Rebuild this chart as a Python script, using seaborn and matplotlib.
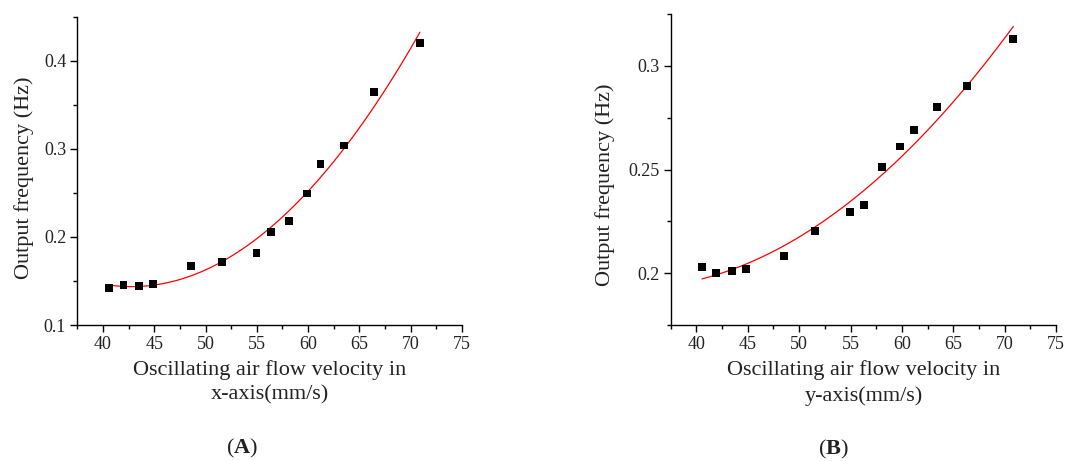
import numpy as np
import pandas as pd
import matplotlib
matplotlib.use("Agg")
import matplotlib.pyplot as plt
from matplotlib.ticker import MultipleLocator
import seaborn as sns

# Panel A: x-axis velocity vs output frequency
vel_x = [40.55, 42.0, 43.5, 44.87, 48.58, 51.6, 54.97, 56.37, 58.12, 59.9, 61.2, 63.48, 66.4, 70.9]
freq_x = [0.1424, 0.1455, 0.1443, 0.1462, 0.167, 0.172, 0.1818, 0.2053, 0.2178, 0.2493, 0.2826, 0.3038, 0.3644, 0.4197]

# Panel B: y-axis velocity vs output frequency
vel_y = [40.55, 41.95, 43.47, 44.84, 48.54, 51.56, 54.94, 56.3, 58.05, 59.84, 61.17, 63.44, 66.36, 70.84]
freq_y = [0.2029, 0.2, 0.2011, 0.2021, 0.2082, 0.2202, 0.2295, 0.2329, 0.251, 0.2611, 0.2691, 0.2801, 0.2901, 0.3128]

xlabels = ["Oscillating air flow velocity in\nx-axis(mm/s)",
           "Oscillating air flow velocity in\ny-axis(mm/s)"]
ylabel = "Output frequency (Hz)"
panel_labels = ["A", "B"]

sns.set_style("ticks")
plt.rcParams['font.family'] = ['Liberation Serif', 'DejaVu Serif']
plt.rcParams['mathtext.fontset'] = 'custom'
plt.rcParams['mathtext.rm'] = 'Liberation Serif'
plt.rcParams['mathtext.bf'] = 'Liberation Serif:bold'

fig = plt.figure(figsize=(10.67, 4.61), dpi=100)
axA = fig.add_axes([77.3/1067, 136/461, (462-77.3)/1067, (325-16.7)/461])
axB = fig.add_axes([670.7/1067, 136/461, (1056-670.7)/1067, (325-14)/461])

dfA = pd.DataFrame({"v": vel_x, "f": freq_x})
dfB = pd.DataFrame({"v": vel_y, "f": freq_y})

for ax, df in ((axA, dfA), (axB, dfB)):
    sns.regplot(data=df, x="v", y="f", order=2, ci=None, truncate=True, ax=ax,
                marker="s",
                scatter_kws=dict(s=32, color="black", alpha=1, edgecolors="none", zorder=3),
                line_kws=dict(color="red", lw=0.9, zorder=2))

axA.set_xlim(37.5, 75)
axA.set_ylim(0.1, 0.45)
axA.yaxis.set_major_locator(MultipleLocator(0.1))
axA.yaxis.set_minor_locator(MultipleLocator(0.05))
axA.yaxis.set_major_formatter(plt.FuncFormatter(lambda v, p: f"{v:g}"))

axB.set_xlim(37.5, 75)
axB.set_ylim(0.175, 0.325)
axB.yaxis.set_major_locator(MultipleLocator(0.05))
axB.yaxis.set_minor_locator(MultipleLocator(0.025))
axB.yaxis.set_major_formatter(plt.FuncFormatter(lambda v, p: f"{v:g}"))

for ax, xl, pl, px, ylx, yly in ((axA, xlabels[0], panel_labels[0], 0.428, -0.113, 0.477),
                                 (axB, xlabels[1], panel_labels[1], 0.421, -0.145, 0.45)):
    ax.xaxis.set_major_locator(MultipleLocator(5))
    ax.xaxis.set_minor_locator(MultipleLocator(2.5))
    sns.despine(ax=ax)
    for s in ("left", "bottom"):
        ax.spines[s].set_linewidth(1.0)
        ax.spines[s].set_color("black")
    ax.tick_params(which="major", direction="out", length=5, width=1, labelsize=13,
                   color="black", labelcolor="#222222", pad=3)
    ax.tick_params(which="minor", direction="out", length=3, width=1, color="black")
    ax.set_xlabel(xl, fontsize=16, color="#222222", linespacing=1.4, labelpad=5)
    ax.set_ylabel(ylabel, fontsize=16, color="#222222")
    ax.yaxis.set_label_coords(ylx, yly)
    ax.text(px, -0.40, r"($\mathbf{" + pl + r"}$)", transform=ax.transAxes,
            ha="center", va="center", fontsize=16, color="#222222")

fig.savefig("out.png", dpi=100)
